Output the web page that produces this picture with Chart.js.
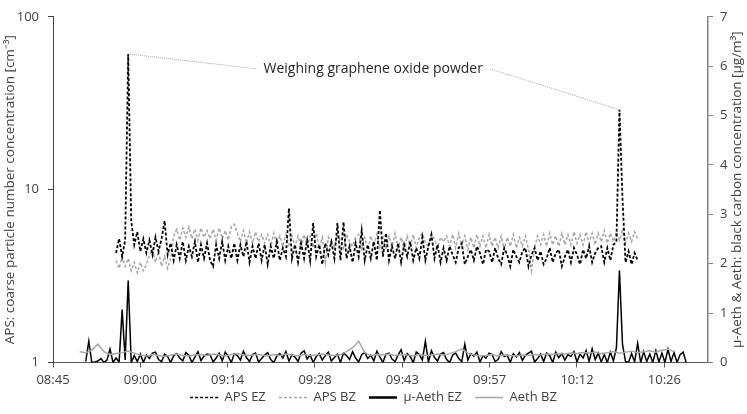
<!DOCTYPE html>
<html>
<head>
<meta charset="utf-8">
<script src="https://cdn.jsdelivr.net/npm/chart.js@4.4.0/dist/chart.umd.min.js"></script>
<style>
  html, body { margin: 0; padding: 0; background: #fff; }
</style>
</head>
<body>
<canvas id="stage" width="747" height="414"></canvas>
<script>
// time axis is in minutes after midnight
const timeTicks = [525.6, 540, 554.4, 568.8, 583.2, 597.6, 612, 626.4];
const timeMin = 525.6;
const timeMax = 633.6;
const apsTicks = [1, 10, 100];

// APS, one value every 0.5 min from 08:56
const apsStart = 536.0;
const apsStep = 0.5;
const apsEz = [
  4.3, 5.2, 4.1, 5.1, 61, 6.6, 4.8, 5.7, 4.4, 5.2,
  4.3, 5.1, 4.2, 5.3, 4.4, 5.2, 6.6, 4.2, 4.9, 3.9,
  4.8, 4.0, 5.0, 3.9, 4.7, 4.1, 5.0, 3.8, 4.8, 4.0,
  4.9, 3.9, 3.6, 4.8, 4.0, 5.0, 3.9, 4.7, 4.0, 4.9,
  3.9, 4.8, 4.1, 5.0, 3.8, 4.7, 4.0, 4.9, 3.9, 4.8,
  3.7, 4.7, 4.0, 5.0, 3.9, 4.6, 4.1, 7.8, 4.0, 4.8,
  3.8, 4.9, 4.0, 5.1, 3.9, 6.4, 4.1, 4.8, 3.7, 4.9,
  4.2, 5.0, 4.0, 6.4, 3.9, 6.5, 4.0, 4.7, 3.8, 4.9,
  4.1, 5.8, 3.9, 4.8, 4.0, 5.0, 3.9, 7.6, 4.1, 5.6,
  3.9, 4.7, 4.0, 4.9, 3.8, 4.8, 4.1, 5.0, 3.9, 4.6,
  4.0, 5.3, 3.9, 4.7, 5.5, 4.0, 4.8, 3.8, 4.6, 3.9,
  4.7, 4.2, 3.8, 4.6, 4.9, 3.7, 4.1, 4.5, 3.9, 4.7,
  4.3, 3.7, 4.5, 4.4, 3.8, 4.6, 4.0, 3.7, 4.6, 4.2,
  3.6, 4.5, 4.1, 3.8, 4.4, 4.6, 3.6, 4.2, 4.6, 3.9,
  4.4, 3.7, 4.0, 4.6, 3.8, 4.3, 4.5, 3.6, 4.1, 4.5,
  3.8, 4.6, 4.2, 3.7, 4.5, 4.0, 4.7, 3.8, 4.3, 4.6,
  4.7, 3.8, 4.6, 3.9, 4.8, 5.0, 29, 8.9, 3.8, 4.4,
  3.7, 4.3, 3.9
];
const apsBz = [
  3.9, 3.5, 4.1, 3.6, 4.0, 3.4, 3.8, 3.3, 3.8, 3.4,
  3.7, 4.2, 4.5, 3.8, 4.4, 3.6, 4.1, 3.5, 4.0, 5.4,
  5.9, 5.1, 6.0, 5.3, 6.1, 5.2, 5.9, 5.1, 6.0, 5.3,
  5.8, 5.2, 5.9, 5.1, 6.0, 5.2, 5.8, 5.1, 6.1, 6.3,
  5.6, 5.0, 5.8, 4.9, 5.7, 4.9, 5.7, 5.0, 5.5, 4.9,
  5.5, 4.7, 5.6, 4.8, 5.4, 4.7, 5.5, 4.8, 5.4, 4.7,
  5.4, 4.6, 5.5, 4.7, 5.4, 4.6, 5.6, 4.6, 5.3, 3.8,
  5.3, 4.9, 4.7, 5.4, 5.1, 4.6, 5.5, 5.0, 4.7, 5.3,
  5.5, 4.6, 5.3, 4.5, 5.4, 4.7, 5.5, 4.6, 5.3, 4.5,
  5.4, 4.7, 5.6, 4.6, 5.3, 4.5, 5.4, 4.7, 5.5, 4.6,
  5.3, 5.6, 4.9, 4.7, 5.4, 5.2, 4.6, 5.3, 5.0, 5.4,
  4.7, 5.5, 4.6, 5.6, 4.7, 5.4, 4.5, 5.3, 4.6, 5.5,
  4.7, 5.4, 4.6, 5.5, 4.7, 5.3, 4.6, 5.4, 4.5, 5.3,
  4.7, 5.5, 4.6, 5.3, 4.7, 5.4, 4.5, 3.4, 4.6, 5.4,
  4.8, 5.5, 4.7, 5.6, 4.8, 5.4, 4.7, 5.6, 4.8, 5.5,
  4.8, 5.7, 4.9, 5.5, 4.8, 5.7, 4.9, 5.6, 4.8, 5.6,
  5.0, 5.8, 4.9, 5.6, 5.0, 5.7, 5.1, 5.8, 4.9, 5.6,
  5.0, 5.7, 5.2
];

// micro-aethalometer EZ, every 0.5 min from 08:51
const microStart = 531.0;
const microStep = 0.5;
const microAethEz = [
  0.02, 0.43, 0.00, 0.01, 0.03, 0.08, 0.00, 0.05, 0.27, 0.00,
  0.09, 0.01, 1.07, 0.05, 1.66, 0.00, 0.14, 0.02, 0.17, 0.00,
  0.15, 0.08, 0.19, 0.21, 0.06, 0.02, 0.17, 0.12, 0.00, 0.14,
  0.18, 0.09, 0.03, 0.20, 0.15, 0.00, 0.11, 0.22, 0.04, 0.13,
  0.17, 0.16, 0.01, 0.09, 0.19, 0.03, 0.21, 0.12, 0.00, 0.18,
  0.14, 0.05, 0.23, 0.10, 0.02, 0.16, 0.19, 0.01, 0.08, 0.15,
  0.20, 0.06, 0.00, 0.13, 0.18, 0.09, 0.22, 0.03, 0.16, 0.11,
  0.02, 0.19, 0.24, 0.07, 0.15, 0.00, 0.12, 0.18, 0.05, 0.14,
  0.21, 0.03, 0.10, 0.17, 0.00, 0.19, 0.14, 0.06, 0.22, 0.09,
  0.01, 0.16, 0.20, 0.08, 0.15, 0.03, 0.23, 0.11, 0.00, 0.17,
  0.19, 0.07, 0.02, 0.15, 0.26, 0.04, 0.18, 0.12, 0.00, 0.21,
  0.16, 0.05, 0.43, 0.01, 0.24, 0.10, 0.03, 0.17, 0.20, 0.06,
  0.00, 0.15, 0.19, 0.08, 0.02, 0.37, 0.05, 0.18, 0.13, 0.21,
  0.01, 0.14, 0.09, 0.19, 0.16, 0.02, 0.06, 0.22, 0.12, 0.15,
  0.00, 0.18, 0.11, 0.20, 0.04, 0.15, 0.19, 0.23, 0.01, 0.08,
  0.17, 0.02, 0.19, 0.14, 0.00, 0.21, 0.10, 0.18, 0.05, 0.16,
  0.12, 0.22, 0.01, 0.17, 0.09, 0.24, 0.02, 0.28, 0.06, 0.19,
  0.01, 0.16, 0.00, 0.21, 0.03, 0.30, 1.86, 0.37, 0.02, 0.00,
  0.18, 0.01, 0.39, 0.00, 0.22, 0.02, 0.17, 0.00, 0.24, 0.01,
  0.19, 0.00, 0.27, 0.02, 0.20, 0.00, 0.16, 0.21, 0.00
];

// aethalometer BZ, every minute from 08:50
const aethStart = 530;
const aethStep = 1;
const aethBz = [
  0.22, 0.20, 0.25, 0.37, 0.22, 0.16, 0.18, 0.20, 0.23, 0.19,
  0.15, 0.13, 0.16, 0.14, 0.12, 0.15, 0.17, 0.14, 0.13, 0.15,
  0.16, 0.14, 0.17, 0.15, 0.13, 0.16, 0.18, 0.15, 0.14, 0.16,
  0.15, 0.13, 0.16, 0.14, 0.17, 0.15, 0.13, 0.16, 0.14, 0.15,
  0.17, 0.15, 0.14, 0.16, 0.22, 0.30, 0.43, 0.20, 0.14, 0.16,
  0.15, 0.17, 0.14, 0.16, 0.15, 0.13, 0.16, 0.14, 0.15, 0.17,
  0.15, 0.18, 0.22, 0.27, 0.19, 0.15, 0.13, 0.14, 0.16, 0.13,
  0.15, 0.14, 0.13, 0.15, 0.14, 0.16, 0.15, 0.17, 0.16, 0.18,
  0.17, 0.19, 0.18, 0.20, 0.19, 0.21, 0.18, 0.20, 0.22, 0.19,
  0.21, 0.23, 0.20, 0.22, 0.24, 0.21, 0.25, 0.27, 0.22
];

const noteText = 'Weighing graphene oxide powder';
const notePeaks = [4, 166];         // indices of the two APS EZ peaks
const noteAt = { x: 578.4, y: 50 }; // where the label sits (time, APS value)

const leftTitle = 'APS: coarse particle number concentration [cm\u207B\u00B3]';
const rightTitle = '\u03BC-Aeth & Aeth: black carbon concentration [\u03BCg/m\u00B3]';

function series(start, step, values) {
  return values.map((v, i) => ({ x: start + i * step, y: v }));
}

function hhmm(v) {
  const h = Math.floor(v / 60);
  const m = Math.floor(v - h * 60 + 1e-6);
  return String(h).padStart(2, '0') + ':' + String(m).padStart(2, '0');
}

const fontFamily = "'Open Sans', sans-serif";
const textColor = '#404040';

// annotation: label plus dotted leaders to both peaks
const notePlugin = {
  id: 'note',
  afterDatasetsDraw(chart) {
    const ctx = chart.ctx;
    const meta = chart.getDatasetMeta(0);
    const p1 = meta.data[notePeaks[0]];
    const p2 = meta.data[notePeaks[1]];
    const tx = chart.scales.x.getPixelForValue(noteAt.x);
    const ty = chart.scales.yAps.getPixelForValue(noteAt.y);
    ctx.save();
    ctx.font = '14px ' + fontFamily;
    const w = ctx.measureText(noteText).width;
    ctx.strokeStyle = '#a6a6a6';
    ctx.lineWidth = 1;
    ctx.setLineDash([1, 1]);
    ctx.beginPath();
    ctx.moveTo(p1.x, p1.y);
    ctx.lineTo(tx - w / 2 - 7, ty);
    ctx.moveTo(tx + w / 2 + 7, ty);
    ctx.lineTo(p2.x, p2.y);
    ctx.stroke();
    ctx.fillStyle = '#262626';
    ctx.textAlign = 'center';
    ctx.textBaseline = 'middle';
    ctx.fillText(noteText, tx, ty);
    ctx.restore();
  }
};

// axis titles (the right one reads bottom to top)
const titlePlugin = {
  id: 'titles',
  afterDraw(chart) {
    const ctx = chart.ctx;
    const a = chart.chartArea;
    const cy = (a.top + a.bottom) / 2;
    [[leftTitle, a.left - 43], [rightTitle, a.right + 29]].forEach(([text, x]) => {
      ctx.save();
      ctx.font = '13.5px ' + fontFamily;
      ctx.fillStyle = textColor;
      ctx.textAlign = 'center';
      ctx.textBaseline = 'middle';
      ctx.translate(x, cy);
      ctx.rotate(-Math.PI / 2);
      ctx.fillText(text, 0, 0);
      ctx.restore();
    });
  }
};

Chart.defaults.font.family = fontFamily;
Chart.defaults.font.size = 13;
Chart.defaults.color = textColor;

const defaultLabels = Chart.defaults.plugins.legend.labels.generateLabels;

new Chart(document.getElementById('stage'), {
  type: 'line',
  data: {
    datasets: [
      {
        label: 'APS EZ',
        data: series(apsStart, apsStep, apsEz),
        yAxisID: 'yAps',
        borderColor: '#000000',
        borderWidth: 1.8,
        borderDash: [3, 2]
      },
      {
        label: 'APS BZ',
        data: series(apsStart, apsStep, apsBz),
        yAxisID: 'yAps',
        borderColor: '#a6a6a6',
        borderWidth: 1.5,
        borderDash: [3, 2]
      },
      {
        label: '\u03BC-Aeth EZ',
        data: series(microStart, microStep, microAethEz),
        yAxisID: 'yBc',
        borderColor: '#000000',
        borderWidth: 1.5
      },
      {
        label: 'Aeth BZ',
        data: series(aethStart, aethStep, aethBz),
        yAxisID: 'yBc',
        borderColor: '#a6a6a6',
        borderWidth: 1.5,
        order: -1
      }
    ]
  },
  options: {
    responsive: false,
    animation: false,
    devicePixelRatio: 1,
    layout: { padding: { top: 5, left: 0, right: 0, bottom: 0 } },
    elements: {
      point: { radius: 0 },
      line: { tension: 0, fill: false }
    },
    scales: {
      x: {
        type: 'linear',
        min: timeMin,
        max: timeMax,
        afterBuildTicks: (s) => { s.ticks = timeTicks.map(v => ({ value: v })); },
        afterFit: (s) => { s.height = 24; },
        ticks: { callback: (v) => hhmm(v), padding: 5, maxRotation: 0, autoSkip: false, color: textColor },
        grid: { drawOnChartArea: false, tickLength: 5, color: '#595959' },
        border: { color: '#595959', width: 1 }
      },
      yAps: {
        type: 'logarithmic',
        position: 'left',
        min: 1,
        max: 100,
        afterBuildTicks: (s) => { s.ticks = apsTicks.map(v => ({ value: v })); },
        afterFit: (s) => { s.width = 53; },
        ticks: { callback: (v) => String(v), padding: 9, color: textColor },
        grid: { drawOnChartArea: false, tickLength: 5, color: '#404040' },
        border: { color: '#404040', width: 1 }
      },
      yBc: {
        type: 'linear',
        position: 'right',
        min: 0,
        max: 7,
        ticks: { stepSize: 1, padding: 7, color: textColor },
        afterFit: (s) => { s.width = 39; },
        grid: { drawOnChartArea: false, tickLength: 5, color: '#7f7f7f' },
        border: { color: '#7f7f7f', width: 1.5 }
      }
    },
    plugins: {
      tooltip: { enabled: false },
      legend: {
        position: 'bottom',
        labels: {
          usePointStyle: true,
          pointStyle: 'line',
          pointStyleWidth: 28,
          padding: 4.5,
          color: textColor,
          font: { size: 13 },
          // legend lines take dash and width from the dataset line;
          // small vertical padding, so the gap between entries is added as spaces
          generateLabels: (chart) => defaultLabels(chart).map((item) => {
            const ds = chart.data.datasets[item.datasetIndex];
            item.lineDash = ds.borderDash || [];
            item.lineWidth = ds.borderDash ? 1.5 : (ds.borderColor === '#000000' ? 2.5 : 1.5);
            if (item.datasetIndex < chart.data.datasets.length - 1) item.text += '\u2002\u2009';
            return item;
          }),
          sort: (a, b) => a.datasetIndex - b.datasetIndex
        }
      }
    }
  },
  plugins: [notePlugin, titlePlugin]
});
</script>
</body>
</html>
